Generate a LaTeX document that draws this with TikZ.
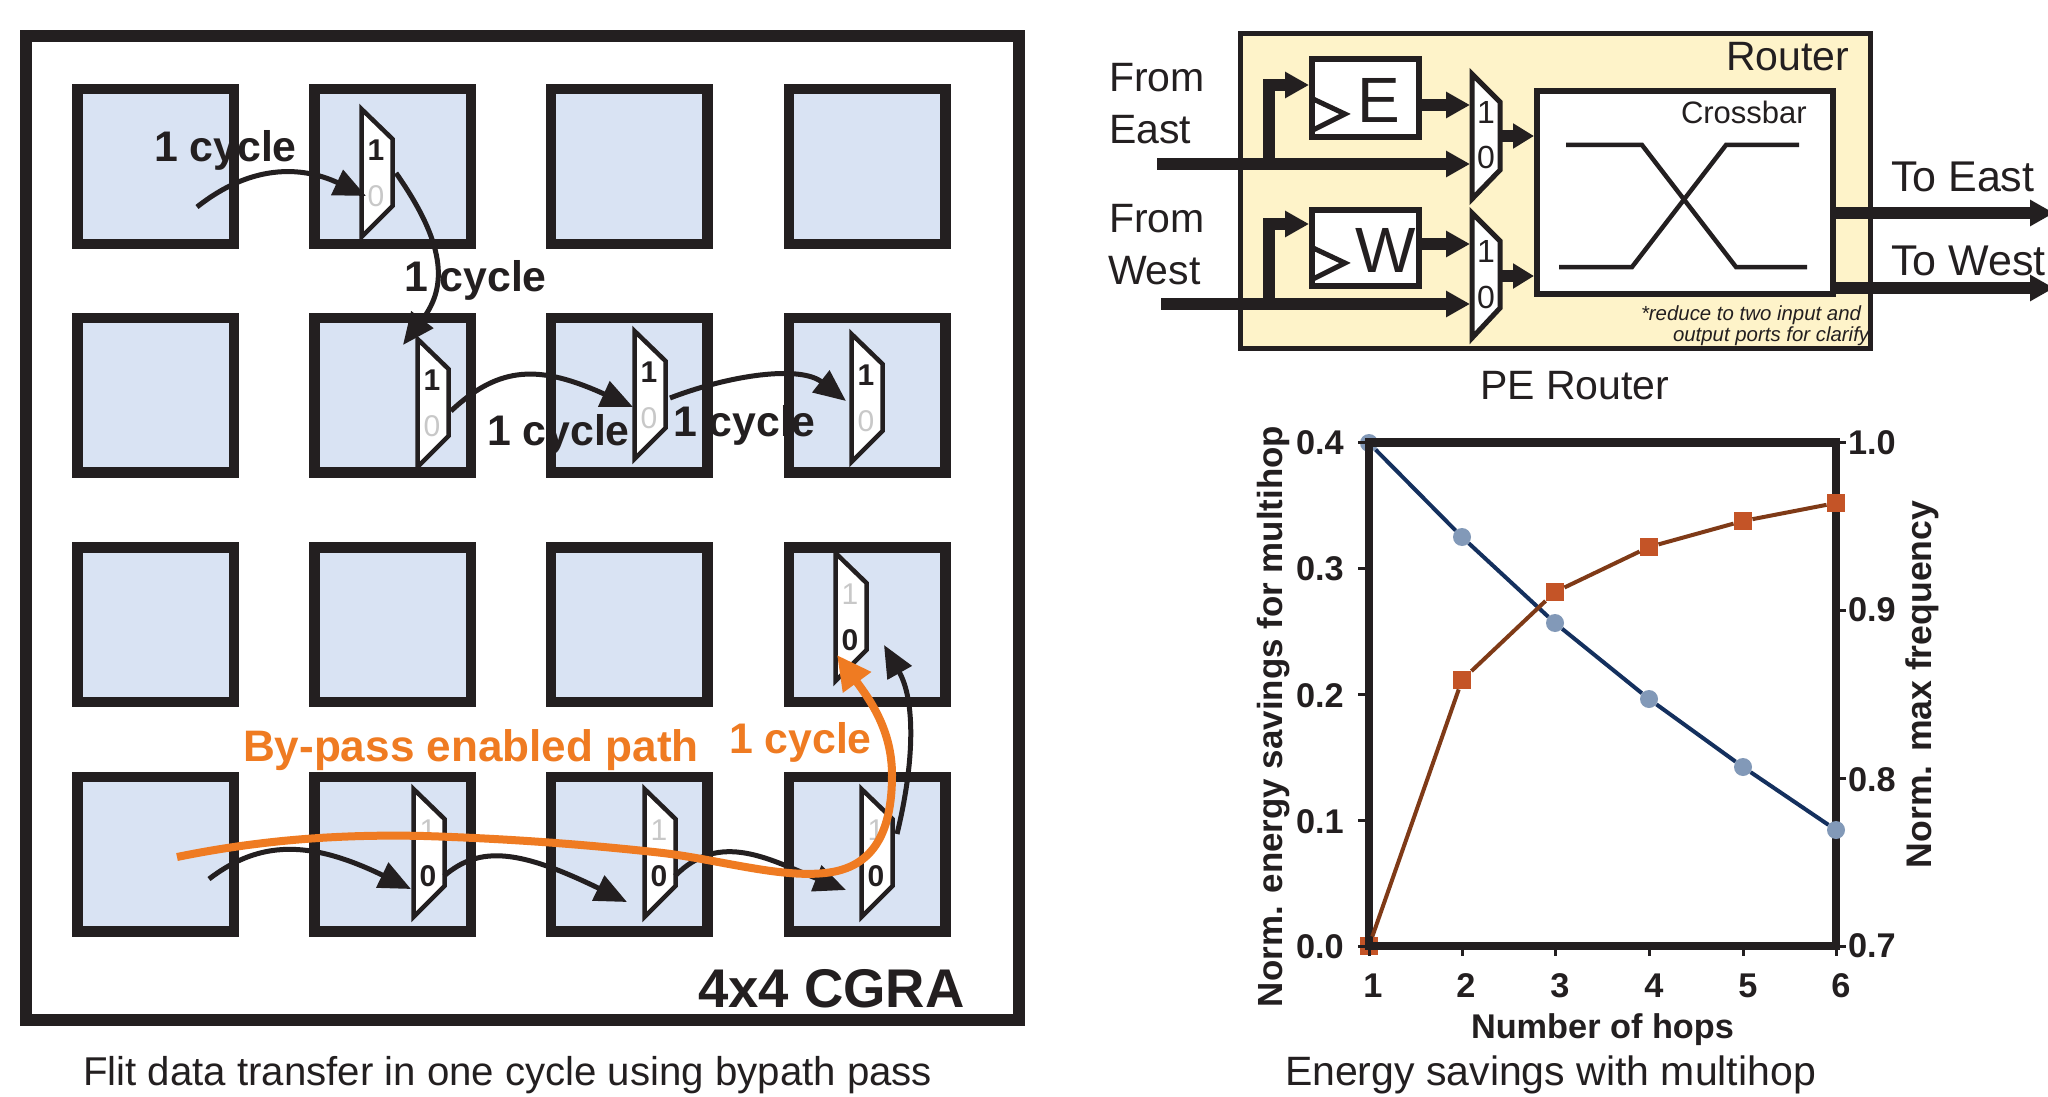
\documentclass[tikz,border=0pt]{standalone}
\usepackage{fontspec}
\setmainfont{Liberation Sans}
\usetikzlibrary{arrows.meta}
\definecolor{ink}{HTML}{231F20}
\definecolor{peblue}{HTML}{D9E3F3}
\definecolor{cream}{HTML}{FEF3C9}
\definecolor{orng}{HTML}{EF7B22}
\definecolor{ghost}{HTML}{C8C8C8}
\definecolor{navy}{HTML}{14305E}
\definecolor{steel}{HTML}{8299B8}
\definecolor{rust}{HTML}{C45427}
\definecolor{brwn}{HTML}{7F3A17}
\newcommand\fsz[1]{\fontsize{#1}{#1}\selectfont}
\tikzset{
  x=1pt,y=-1pt,
  pebox/.style={draw=ink,fill=peblue,line width=10.5pt,minimum width=156.5pt,minimum height=154.5pt,inner sep=0pt},
  txt/.style={inner sep=0pt,outer sep=0pt,text=ink,anchor=base west},
  cyc/.style={txt,font=\fsz{42.8}\bfseries},
  captxt/.style={txt,font=\fsz{41}},
  onnum/.style={inner sep=0pt,text=ink,font=\fsz{30}\bfseries},
  offnum/.style={inner sep=0pt,text=ghost,font=\fsz{30}},
  flow/.style={draw=ink,line width=5pt,-{Triangle[length=32pt,width=27pt]}},
  fatarrow/.style={draw=ink,line width=12pt,miter limit=10,-{Triangle[length=24pt,width=25pt]}},
  smallfat/.style={draw=ink,line width=12pt,-{Triangle[length=21pt,width=24pt]}},
  muxline/.style={draw=ink,fill=white,line width=4.5pt,miter limit=10},
  rmux/.style={draw=ink,fill=white,line width=5pt,miter limit=10},
  tickln/.style={draw=ink,line width=3pt},
  ticknum/.style={txt,font=\fsz{34.3}\bfseries},
  dotm/.style={circle,fill=steel,minimum size=18pt,inner sep=0pt},
  sqm/.style={rectangle,fill=rust,minimum size=18.5pt,inner sep=0pt},
  blueline/.style={draw=navy,line width=4pt},
  brownline/.style={draw=brwn,line width=4pt},
}
% #1 name, #2 left x, #3 top y, #4 style of "1", #5 style of "0"
\newcommand\cgmux[5]{%
  \draw[muxline] (#2+1.5,#3) -- (#2+32.5,#3+30) -- (#2+32.5,#3+97) -- (#2+1.5,#3+128) -- cycle;
  \node[#4] (#1a) at (#2+16,#3+41) {1};
  \node[#5] (#1b) at (#2+16,#3+87) {0};
}
\begin{document}
\begin{tikzpicture}
\useasboundingbox (0,0) rectangle (2048,1097);
\fill[white] (0,0) rectangle (2048,1097);
% ---------- CGRA
\node[draw=ink,line width=12pt,minimum width=993pt,minimum height=984pt,inner sep=0pt] (frame) at (522.5,528) {};
\foreach \c/\x in {1/155.5,2/392.5,3/629,4/867}
  \foreach \r/\y in {1/166.5,2/395,3/624.5,4/854}
    \node[pebox] (pe\r\c) at (\x,\y) {};
\cgmux{ma}{360}{109}{onnum}{offnum}
\cgmux{mb}{416}{339}{onnum}{offnum}
\cgmux{mc}{633}{331}{onnum}{offnum}
\cgmux{md}{850}{334}{onnum}{offnum}
\cgmux{me}{834}{553}{offnum}{onnum}
\cgmux{mf}{412}{789}{offnum}{onnum}
\cgmux{mg}{643}{789}{offnum}{onnum}
\cgmux{mh}{860}{789}{offnum}{onnum}
% black hops
\coordinate (s1) at (197,207); \coordinate (t1) at (366,196);
\coordinate (s2) at (396,173); \coordinate (t2) at (403,345);
\coordinate (s3) at (451,411); \coordinate (t3) at (633,407);
\coordinate (s4) at (670,398); \coordinate (t4) at (846,401);
\coordinate (s5) at (209,879); \coordinate (t5) at (411,889);
\coordinate (s6) at (444,876); \coordinate (t6) at (627,902);
\coordinate (s7) at (675,876); \coordinate (t7) at (846,890);
\coordinate (s8) at (897,834); \coordinate (t8) at (884,645);
\draw[flow] (s1) .. controls (250,165) and (300,165) .. (t1);
\draw[flow] (s2) .. controls (450,250) and (445,290) .. (t2);
\draw[flow] (s3) .. controls (500,365) and (540,365) .. (t3);
\draw[flow] (s4) .. controls (730,375) and (800,365) .. (t4);
\draw[flow] (s5) .. controls (260,840) and (310,840) .. (t5);
\draw[flow] (s6) .. controls (480,845) and (520,850) .. (t6);
\draw[flow] (s7) .. controls (720,830) and (770,860) .. (t7);
\draw[flow] (s8) .. controls (915,760) and (915,700) .. (t8);
% orange path
\coordinate (os) at (177,857); \coordinate (ot) at (837,655);
\draw[draw=orng,line width=8pt,-{Triangle[length=34pt,width=33pt]}] (os)
  .. controls (260,840) and (340,834) .. (424,836)
  .. controls (520,839) and (600,846) .. (663,853)
  .. controls (720,860) and (780,878) .. (825,873)
  .. controls (875,868) and (892,830) .. (892,775)
  .. controls (892,730) and (870,700) .. (ot);
\node[cyc] (l1) at (154,161) {1 cycle};
\node[cyc] (l2) at (404,291) {1 cycle};
\node[cyc] (l3) at (487,445) {1 cycle};
\node[cyc] (l4) at (673,436) {1 cycle};
\node[cyc,text=orng,font=\fsz{44.1}\bfseries] (l5) at (243,761) {By-pass enabled path};
\node[cyc,text=orng] (l6) at (729,753) {1 cycle};
\node[txt,font=\fsz{54.5}\bfseries] (l7) at (698,1007) {4x4 CGRA};
\node[txt,font=\fsz{40.2}] (c1) at (83,1085) {Flit data transfer in one cycle using bypath pass};
% ---------- Router
\node[draw=ink,fill=cream,line width=5pt,minimum width=630pt,minimum height=315pt,inner sep=0pt] (router) at (1555.5,191) {};
\node[captxt] (rt) at (1726,71) {Router};
\node[draw=ink,fill=white,line width=6pt,minimum width=107pt,minimum height=78pt,inner sep=0pt] (ebox) at (1365.5,98.5) {};
\node[draw=ink,fill=white,line width=6pt,minimum width=107pt,minimum height=76pt,inner sep=0pt] (wbox) at (1365.5,247.5) {};
\draw[ink,line width=5pt,miter limit=10] (1311,98) -- (1345,114) -- (1311,131);
\draw[ink,line width=5pt,miter limit=10] (1311,247) -- (1345,263) -- (1311,280);
\node[txt,font=\fsz{64},anchor=base] (eL) at (1379,123) {E};
\node[txt,font=\fsz{64},anchor=base] (wL) at (1386,272) {W};
\draw[rmux] (1472,74) -- (1500,102) -- (1500,170) -- (1472,199) -- cycle;
\draw[rmux] (1472,213) -- (1500,241) -- (1500,308) -- (1472,338) -- cycle;
\node[txt,font=\fsz{32},anchor=center] (d1) at (1486,112) {1};
\node[txt,font=\fsz{32},anchor=center] (d2) at (1486,157) {0};
\node[txt,font=\fsz{32},anchor=center] (d3) at (1486,251) {1};
\node[txt,font=\fsz{32},anchor=center] (d4) at (1486,297) {0};
\node[draw=ink,fill=white,line width=6pt,minimum width=296pt,minimum height=203pt,inner sep=0pt] (xbar) at (1685,192.5) {};
\node[txt,font=\fsz{31}] (xl) at (1681,124) {Crossbar};
\draw[ink,line width=4.5pt] (1566,145) -- (1642,145) -- (1736,267) -- (1807,267);
\draw[ink,line width=4.5pt] (1799,145) -- (1726,145) -- (1632,267) -- (1559,267);
% fat arrows
\coordinate (ei) at (1157,164); \coordinate (wi) at (1161,304);
\coordinate (ej) at (1269,164); \coordinate (wj) at (1269,304);
\draw[fatarrow] (ei) -- (1470,164);
\draw[fatarrow] (wi) -- (1470,304);
\draw[fatarrow] (ej) -- (1269,85) -- (1309,85);
\draw[fatarrow] (wj) -- (1269,224) -- (1309,224);
\draw[fatarrow] (ebox.east |- 0,105) -- (1470,105);
\draw[fatarrow] (wbox.east |- 0,244) -- (1470,244);
\draw[smallfat] (1502,136) -- (1534,136);
\draw[smallfat] (1502,276) -- (1534,276);
\coordinate (oe) at (2054,213); \coordinate (ow) at (2054,288);
\draw[fatarrow] (xbar.east |- oe) -- (oe);
\draw[fatarrow] (xbar.east |- ow) -- (ow);
\node[captxt] (fe1) at (1109,92) {From};
\node[captxt] (fe2) at (1109,143) {East};
\node[captxt] (fw1) at (1109,232) {From};
\node[captxt] (fw2) at (1108,284) {West};
\node[txt,font=\fsz{43}] (te) at (1891,191) {To East};
\node[txt,font=\fsz{43}] (tw) at (1891,275) {To West};
\node[txt,font=\fsz{20.4}\itshape] (n1) at (1641,320) {*reduce to two input and};
\node[txt,font=\fsz{20.4}\itshape] (n2) at (1673,341) {output ports for clarify};
\node[captxt] (pr) at (1480,399) {PE Router};
% ---------- Chart
\node[dotm] (b1) at (1369,443) {};
\node[sqm] (o1) at (1369,946) {};
\draw[ink,line width=8.5pt,miter limit=10] (1369,442.5) rectangle (1836,946);
\foreach \y in {442.5,568,694,820,946} \draw[tickln] (1358,\y) -- (1369,\y);
\foreach \y in {442.5,610,778,946} \draw[tickln] (1836,\y) -- (1846,\y);
\foreach \x in {1369,1462,1555,1649,1743,1836} \draw[tickln] (\x,946) -- (\x,956);
\node[dotm] (b2) at (1462,537) {};
\node[dotm] (b3) at (1555,623) {};
\node[dotm] (b4) at (1649,699) {};
\node[dotm] (b5) at (1743,767) {};
\node[dotm] (b6) at (1836,830) {};
\node[sqm] (o2) at (1462,680) {};
\node[sqm] (o3) at (1555,592) {};
\node[sqm] (o4) at (1649,547) {};
\node[sqm] (o5) at (1743,521) {};
\node[sqm] (o6) at (1836,503) {};
\draw[blueline] (b1) -- (b2); \draw[blueline] (b2) -- (b3); \draw[blueline] (b3) -- (b4); \draw[blueline] (b4) -- (b5); \draw[blueline] (b5) -- (b6);
\draw[brownline] (o1) -- (o2); \draw[brownline] (o2) -- (o3); \draw[brownline] (o3) -- (o4); \draw[brownline] (o4) -- (o5); \draw[brownline] (o5) -- (o6);
\foreach \n/\t/\y in {a/0.4/454,b/0.3/580,c/0.2/707,d/0.1/833,e/0.0/958} \node[ticknum] (yl\n) at (1296,\y) {\t};
\foreach \n/\t/\y in {a/1.0/454,b/0.9/621,c/0.8/791,d/0.7/957} \node[ticknum] (yr\n) at (1848,\y) {\t};
\foreach \t/\x in {1/1373,2/1466,3/1560,4/1654,5/1748,6/1841} \node[ticknum,anchor=base] (xl\t) at (\x,997) {\t};
\node[ticknum] (xt) at (1471,1038) {Number of hops};
\node[ticknum,rotate=90,font=\fsz{34.9}\bfseries] (yt1) at (1282,1007) {Norm. energy savings for multihop};
\node[ticknum,rotate=90,font=\fsz{35.6}\bfseries] (yt2) at (1931,868) {Norm. max frequency};
\node[captxt] (c2) at (1285,1085) {Energy savings with multihop};
\end{tikzpicture}
\end{document}
